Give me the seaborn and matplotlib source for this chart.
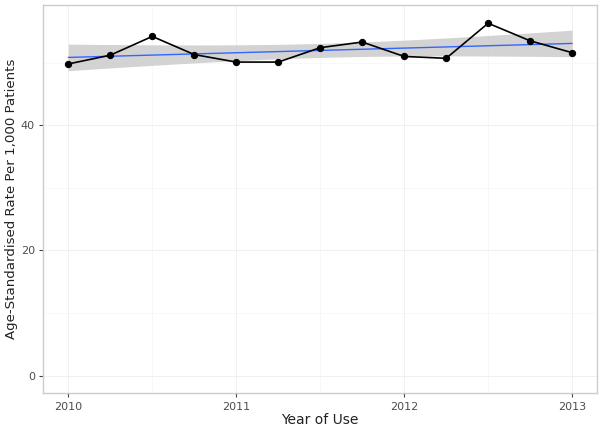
import matplotlib
matplotlib.use("Agg")
import matplotlib.pyplot as plt
import seaborn as sns
import numpy as np
import pandas as pd

years = [2010.0, 2010.25, 2010.5, 2010.75, 2011.0, 2011.25, 2011.5, 2011.75,
         2012.0, 2012.25, 2012.5, 2012.75, 2013.0]
rates = [49.8, 51.2, 54.2, 51.3, 50.1, 50.1, 52.4, 53.3, 51.0, 50.7, 56.3, 53.5, 51.6]
xticks = [2010, 2011, 2012, 2013]
yticks = [0, 20, 40]

df = pd.DataFrame({"year": years, "rate": rates})

sns.set_theme(style="white")
plt.rcParams['font.family'] = ['DejaVu Sans']

fig = plt.figure(figsize=(6.07, 4.26), dpi=100)
ax = fig.add_axes([0.071, 0.077, 0.913, 0.911])

# grid
for v in xticks:
    ax.axvline(v, color="#eeeeee", lw=0.6, zorder=0)
for v in [2010.5, 2011.5, 2012.5]:
    ax.axvline(v, color="#f5f5f5", lw=0.5, zorder=0)
for v in yticks:
    ax.axhline(v, color="#eeeeee", lw=0.6, zorder=0)
for v in [10, 30, 50]:
    ax.axhline(v, color="#f5f5f5", lw=0.5, zorder=0)

# analytic 95% confidence band of the linear fit (as ggplot's geom_smooth)
x = np.asarray(years)
y = np.asarray(rates)
n = len(x)
b1, b0 = np.polyfit(x, y, 1)
resid = y - (b0 + b1 * x)
s = np.sqrt(np.sum(resid ** 2) / (n - 2))
xg = np.linspace(x.min(), x.max(), 100)
se = s * np.sqrt(1 / n + (xg - x.mean()) ** 2 / np.sum((x - x.mean()) ** 2))
tval = 2.201  # t(0.975, 11)
yg = b0 + b1 * xg
ax.fill_between(xg, yg - tval * se, yg + tval * se, color="#c8c8c8", alpha=0.8,
                lw=0, zorder=1)

sns.regplot(data=df, x="year", y="rate", scatter=False, ci=None,
            color="#3366FF", line_kws={"lw": 1.0, "zorder": 2}, ax=ax, truncate=True)

sns.lineplot(data=df, x="year", y="rate", color="black", lw=1.2, marker="o",
             markersize=4.5, markeredgecolor="black", ax=ax, zorder=5)

ax.set_xlim(2009.85, 2013.15)
ax.set_ylim(-2.8, 59.2)
ax.set_xticks(xticks)
ax.set_xticklabels([str(t) for t in xticks])
ax.set_yticks(yticks)
ax.tick_params(axis="both", which="major", length=3, width=0.8, color="#444444",
               labelsize=8, labelcolor="#4d4d4d", direction="out", bottom=True, left=True, pad=3)
ax.set_xlabel("Year of Use", fontsize=10, color="#222222", labelpad=1)
ax.set_ylabel("Age-Standardised Rate Per 1,000 Patients", fontsize=9.6, color="#222222", labelpad=2)
for sp in ax.spines.values():
    sp.set_color("#cccccc")
    sp.set_linewidth(1.0)

fig.savefig("out.png", dpi=100, facecolor="white")
